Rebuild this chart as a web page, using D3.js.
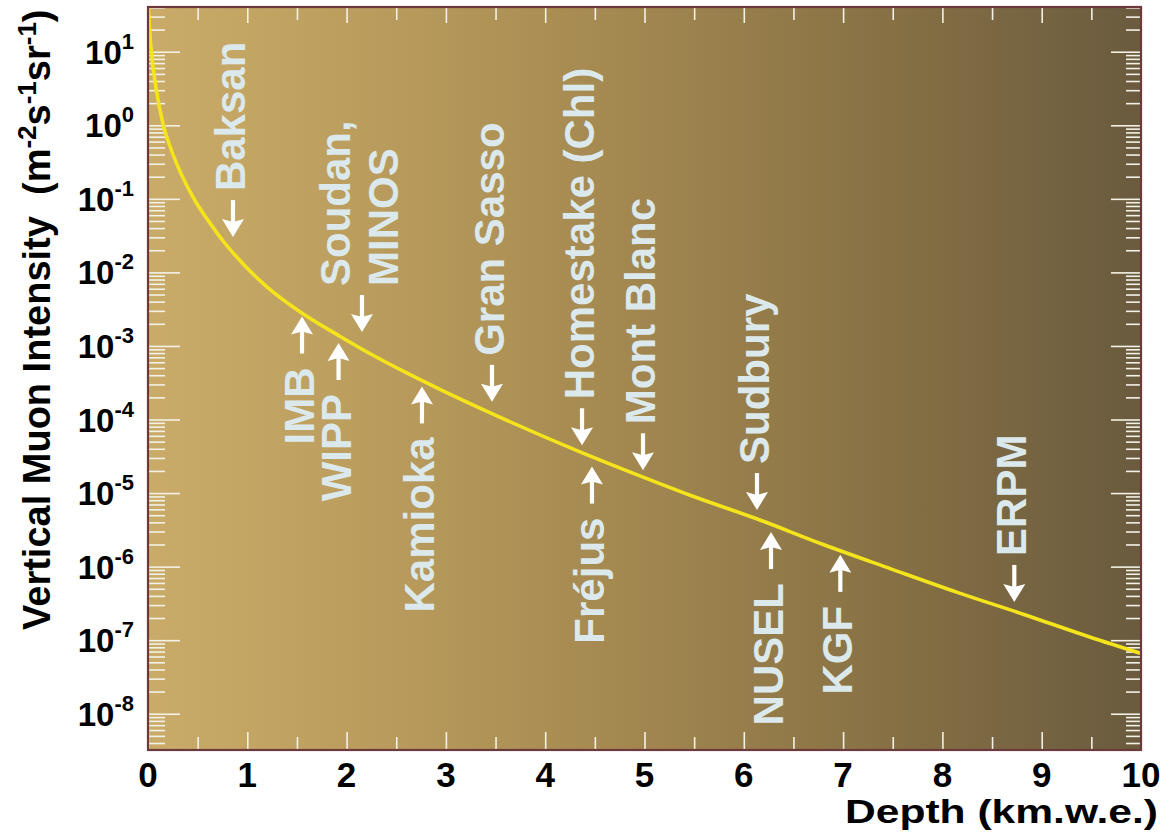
<!DOCTYPE html>
<html><head><meta charset="utf-8">
<script src="https://cdn.jsdelivr.net/npm/d3@7"></script>
<style>
body{margin:0;background:#fff;}
svg{display:block;}
text{font-family:"Liberation Sans",Arial,Helvetica,sans-serif;font-weight:bold;}
</style>
</head><body>
<svg id="chart" width="1165" height="836"></svg>
<script>
// ---- data ----
const depthKm      = [0, 0.003, 0.018, 0.043, 0.084, 0.149, 0.235, 0.34, 0.48, 0.614, 0.76, 0.93, 1.20, 1.53, 1.94, 2.27, 2.61, 2.94, 3.48, 4.35, 4.96, 5.46, 6.13, 6.80, 7.48, 8.15, 8.82, 9.49, 10.0];
const logIntensity = [1.66, 1.608, 1.254, 0.887, 0.479, 0.031, -0.336, -0.68, -1.04, -1.31, -1.58, -1.845, -2.20, -2.535, -2.874, -3.13, -3.37, -3.59, -3.93, -4.44, -4.77, -5.03, -5.35, -5.70, -6.03, -6.35, -6.65, -6.96, -7.18];

const siteNames  = [["Baksan"], ["Soudan,", "MINOS"], ["IMB"], ["WIPP"], ["Kamioka"], ["Gran Sasso"], ["Homestake (Chl)"], ["Mont Blanc"], ["Fréjus"], ["Sudbury"], ["NUSEL"], ["KGF"], ["ERPM"]];
const siteDepth  = [0.856, 2.155, 1.551, 1.919, 2.759, 3.464, 4.371, 4.985, 4.471, 6.133, 6.274, 6.972, 8.724];
const siteTipLog = [-1.52, -2.81, -2.60, -2.96, -3.55, -3.76, -4.35, -4.69, -4.64, -5.23, -5.53, -5.84, -6.48];
const siteDir    = ["down", "down", "up", "up", "up", "down", "down", "down", "up", "down", "up", "up", "down"];

const xTickLabels = ["0","1","2","3","4","5","6","7","8","9","10"];
const yDecades    = [1, 0, -1, -2, -3, -4, -5, -6, -7, -8];
const xDomain     = [0, 10];
const yLogDomain  = [-8.493, 1.608];

// ---- layout ----
const svg = d3.select("#chart");
const L = 148, R = 1141, T = 7, B = 750;

const x = d3.scaleLinear().domain(xDomain).range([L, R]);
const y = d3.scaleLog().domain(yLogDomain.map(v => Math.pow(10, v))).range([B, T]);

// background gradient
const defs = svg.append("defs");
const grad = defs.append("linearGradient").attr("id", "bg").attr("x1", "0").attr("x2", "1").attr("y1", "0").attr("y2", "0");
[["0", "#caab69"], ["0.25", "#b89b5c"], ["0.5", "#a1864f"], ["0.75", "#867044"], ["1", "#6a5b3f"]]
  .forEach(s => grad.append("stop").attr("offset", s[0]).attr("stop-color", s[1]));
defs.append("clipPath").attr("id", "clip").append("rect")
  .attr("x", L).attr("y", T).attr("width", R - L).attr("height", B - T);

svg.append("rect").attr("x", L).attr("y", T).attr("width", R - L).attr("height", B - T)
  .attr("fill", "url(#bg)");

// ---- ticks ----
const allY = y.ticks(40);
const isMajor = v => Math.abs(Math.log10(v) - Math.round(Math.log10(v))) < 1e-9;
const yMaj = allY.filter(isMajor);
const yMin = allY.filter(v => !isMajor(v));
const xMaj = d3.range(0, 10.001, 1);
const xMin = d3.range(0.5, 10, 1);

function styleAxis(g) {
  g.select(".domain").remove();
  g.selectAll(".tick line").attr("stroke", "#f4f1e6").attr("stroke-width", 1.6);
  g.selectAll(".tick text").remove();
}
svg.append("g").attr("transform", `translate(${L},0)`).call(d3.axisLeft(y).tickValues(yMaj).tickSize(-32)).call(styleAxis);
svg.append("g").attr("transform", `translate(${L},0)`).call(d3.axisLeft(y).tickValues(yMin).tickSize(-17)).call(styleAxis);
svg.append("g").attr("transform", `translate(${R},0)`).call(d3.axisRight(y).tickValues(yMaj).tickSize(-30)).call(styleAxis);
svg.append("g").attr("transform", `translate(${R},0)`).call(d3.axisRight(y).tickValues(yMin).tickSize(-15)).call(styleAxis);
svg.append("g").attr("transform", `translate(0,${B})`).call(d3.axisBottom(x).tickValues(xMaj).tickSize(-18)).call(styleAxis);
svg.append("g").attr("transform", `translate(0,${B})`).call(d3.axisBottom(x).tickValues(xMin).tickSize(-13)).call(styleAxis);
svg.append("g").attr("transform", `translate(0,${T})`).call(d3.axisTop(x).tickValues(xMaj).tickSize(-16)).call(styleAxis);
svg.append("g").attr("transform", `translate(0,${T})`).call(d3.axisTop(x).tickValues(xMin).tickSize(-13)).call(styleAxis);

// ---- curve ----
const pts = depthKm.map((d, i) => [d, Math.pow(10, logIntensity[i])]);
svg.append("path").datum(pts)
  .attr("clip-path", "url(#clip)")
  .attr("fill", "none").attr("stroke", "#f4e41c").attr("stroke-width", 3.6)
  .attr("stroke-linejoin", "round")
  .attr("d", d3.line().x(d => x(d[0])).y(d => y(d[1])).curve(d3.curveMonotoneX));

// ---- annotations ----
const arrowLen = 37, headLen = 18, headHalf = 11, notch = 3, gapDown = 9, gapUp = 14, lineH = 48.5;
siteNames.forEach((lines, i) => {
  const ax = x(siteDepth[i]);
  const tip = y(Math.pow(10, siteTipLog[i]));
  const s = siteDir[i] === "down" ? -1 : 1;   // direction from tip toward tail
  const tail = tip + s * arrowLen;
  const headBase = tip + s * headLen;
  svg.append("line").attr("x1", ax).attr("x2", ax).attr("y1", tail).attr("y2", tip + s * (headLen - notch - 1))
    .attr("stroke", "#ffffff").attr("stroke-width", 4.2);
  svg.append("path")
    .attr("d", `M${ax},${tip} L${ax + headHalf},${headBase} L${ax},${headBase - s * notch} L${ax - headHalf},${headBase} Z`)
    .attr("fill", "#ffffff");
  const n = lines.length;
  const ty = siteDir[i] === "down" ? tail - gapDown : tail + gapUp;
  const t = svg.append("text")
    .attr("transform", `translate(${ax},${ty}) rotate(-90)`)
    .attr("text-anchor", siteDir[i] === "down" ? "start" : "end")
    .attr("font-size", 42).attr("fill", "#dce9ec");
  lines.forEach((ln, k) => {
    t.append("tspan").attr("x", 0).attr("y", 12 + (k - (n - 1) / 2) * lineH).text(ln);
  });
});

// ---- frame ----
svg.append("rect").attr("x", L).attr("y", T).attr("width", R - L).attr("height", B - T)
  .attr("fill", "none").attr("stroke", "#6c3a3c").attr("stroke-width", 2.2);

// ---- tick labels ----
svg.append("g").selectAll("text").data(xMaj).join("text")
  .attr("x", d => x(d)).attr("y", B + 37)
  .attr("text-anchor", "middle").attr("font-size", 35).attr("fill", "#000")
  .text((d, i) => xTickLabels[i]);

const yl = svg.append("g").selectAll("text").data(yDecades).join("text")
  .attr("x", 134).attr("y", d => y(Math.pow(10, d)) + 12)
  .attr("text-anchor", "end").attr("fill", "#000");
yl.append("tspan").attr("font-size", 33).text("10");
yl.append("tspan").attr("font-size", 22).attr("dy", -15).text(d => String(d));

// ---- axis titles ----
svg.append("text").attr("x", 1158).attr("y", 823).attr("text-anchor", "end")
  .attr("font-size", 34).attr("fill", "#000")
  .attr("textLength", 313).attr("lengthAdjust", "spacingAndGlyphs")
  .text("Depth (km.w.e.)");

const yt = svg.append("text").attr("transform", "translate(50,630) rotate(-90)")
  .attr("text-anchor", "start").attr("font-size", 38).attr("fill", "#000");
yt.append("tspan").text("Vertical Muon Intensity\u00a0\u00a0(m");
yt.append("tspan").attr("font-size", 26).attr("dy", -14).text("-2");
yt.append("tspan").attr("dy", 14).text("s");
yt.append("tspan").attr("font-size", 26).attr("dy", -14).text("-1");
yt.append("tspan").attr("dy", 14).text("sr");
yt.append("tspan").attr("font-size", 26).attr("dy", -14).text("-1");
yt.append("tspan").attr("dy", 14).text(")");
</script>
</body></html>
